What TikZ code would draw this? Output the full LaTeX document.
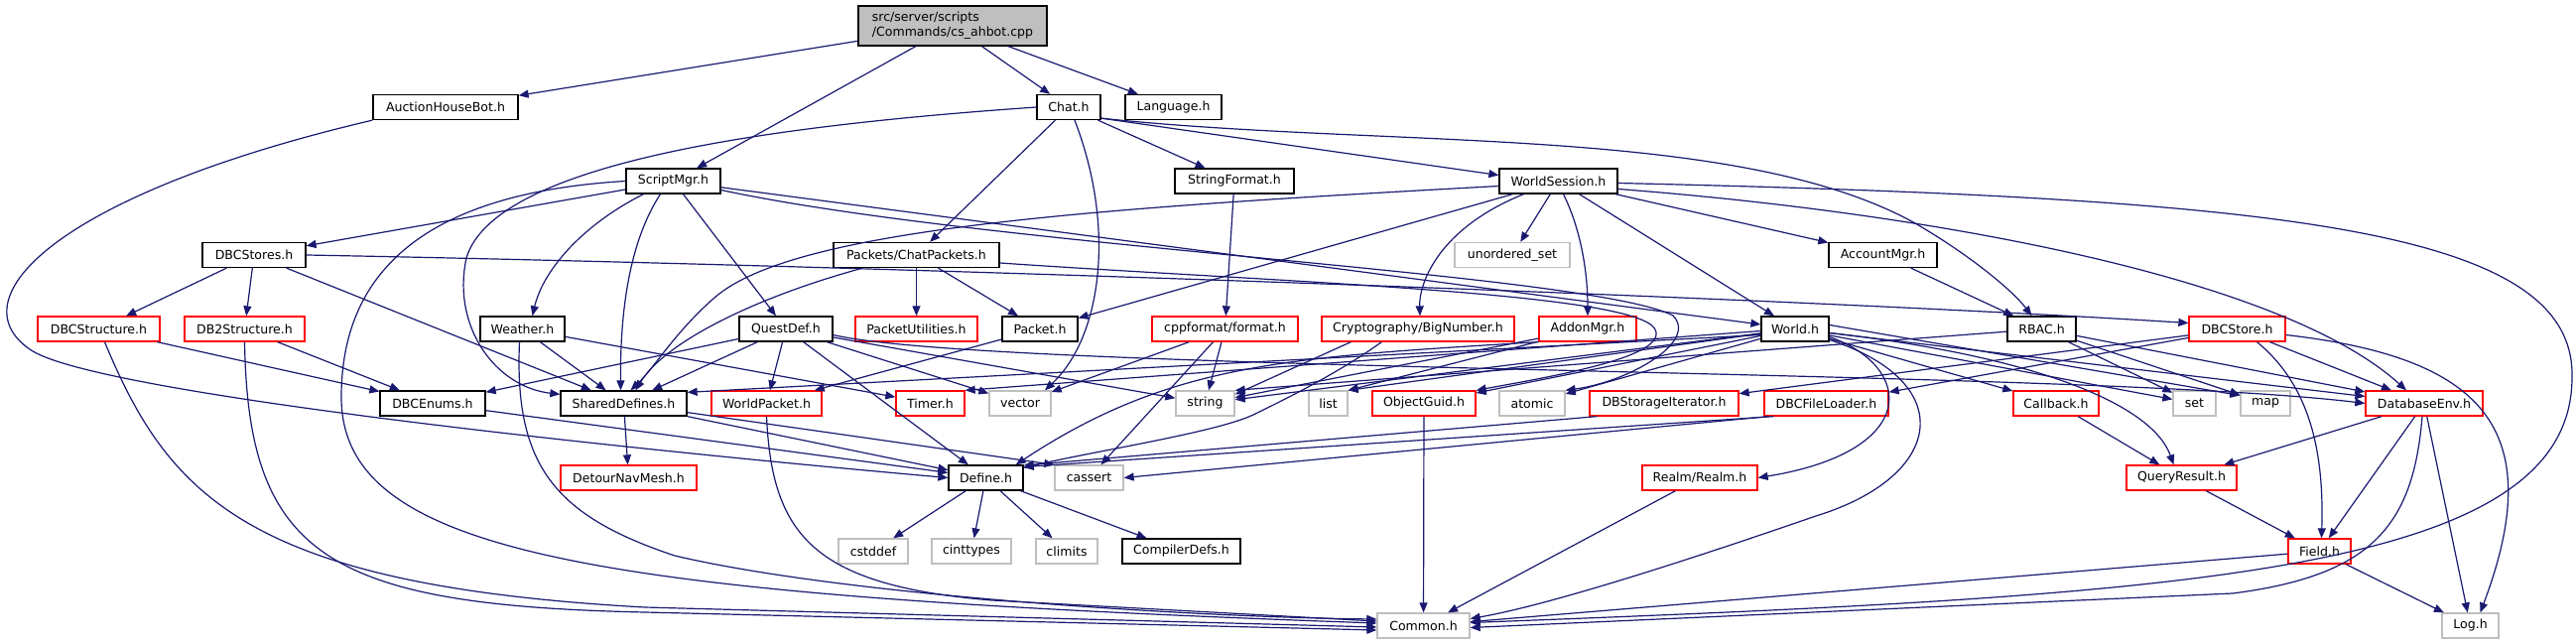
\documentclass[tikz,border=0pt]{standalone}
\usepackage{fontspec}
\setmainfont{DejaVu Sans}
\usetikzlibrary{arrows.meta,calc}
\definecolor{edgec}{HTML}{191970}
\definecolor{grayb}{HTML}{BFBFBF}
\definecolor{redb}{HTML}{FF0000}
\begin{document}
\begin{tikzpicture}[x=1bp,y=-1bp,
  nb/.style={draw=black, fill=white, line width=1.3bp, minimum height=25bp, inner sep=0pt, font=\fontsize{12.6}{15}\selectfont},
  nr/.style={nb, draw=redb},
  ng/.style={nb, draw=grayb},
  dep/.style={draw=edgec, line width=1.2bp, -{Triangle[length=10bp,width=8bp]}}]
\useasboundingbox[fill=white] (0,0) rectangle (2596,649);
% row 0-3
\node[nb,fill=grayb,minimum width=190bp,minimum height=40bp,align=left] (cs) at (960,26) {src/server/scripts\\/Commands/cs\_ahbot.cpp};
\node[nb,minimum width=146bp] (AHB) at (449,108) {AuctionHouseBot.h};
\node[nb,minimum width=64bp] (Chat) at (1077,108) {Chat.h};
\node[nb,minimum width=97bp] (Lang) at (1182.5,108) {Language.h};
\node[nb,minimum width=95bp] (Script) at (678.5,182.5) {ScriptMgr.h};
\node[nb,minimum width=120bp] (StrFmt) at (1244,182.5) {StringFormat.h};
\node[nb,minimum width=119bp] (WS) at (1570.5,182.5) {WorldSession.h};
\node[nb,minimum width=104bp] (DBCStores) at (256,257) {DBCStores.h};
\node[nb,minimum width=167bp] (ChatPk) at (923.5,257) {Packets/ChatPackets.h};
\node[ng,minimum width=116bp] (uset) at (1524,257) {unordered\_set};
\node[nb,minimum width=109bp] (AccMgr) at (1897.5,257) {AccountMgr.h};
% row 4
\node[nr,minimum width=123bp] (DBCStruct) at (99.5,331.5) {DBCStructure.h};
\node[nr,minimum width=121bp] (DB2Struct) at (246.5,331.5) {DB2Structure.h};
\node[nb,minimum width=85bp] (Weather) at (526.5,331.5) {Weather.h};
\node[nb,minimum width=94bp] (Quest) at (792,331.5) {QuestDef.h};
\node[nr,minimum width=123bp] (PktUtil) at (923.5,331.5) {PacketUtilities.h};
\node[nb,minimum width=76bp] (Packet) at (1048,331.5) {Packet.h};
\node[nr,minimum width=147bp] (cppfmt) at (1234.5,331.5) {cppformat/format.h};
\node[nr,minimum width=194bp] (BigNum) at (1429,331.5) {Cryptography/BigNumber.h};
\node[nr,minimum width=98bp] (Addon) at (1600,331.5) {AddonMgr.h};
\node[nb,minimum width=68bp] (World) at (1809,331.5) {World.h};
\node[nb,minimum width=69bp] (RBAC) at (2057.5,331.5) {RBAC.h};
\node[nr,minimum width=97bp] (DBCStore) at (2254.5,331.5) {DBCStore.h};
% row 5
\node[nb,minimum width=106bp] (DBCEnums) at (436,406.5) {DBCEnums.h};
\node[nb,minimum width=127bp] (Shared) at (628.5,406.5) {SharedDefines.h};
\node[nr,minimum width=111bp] (WPkt) at (772.5,406.5) {WorldPacket.h};
\node[nr,minimum width=69bp] (Timer) at (937.5,406.5) {Timer.h};
\node[ng,minimum width=62bp] (vector) at (1028,406.5) {vector};
\node[ng,minimum width=59bp] (string) at (1214.5,406.5) {string};
\node[ng,minimum width=39bp] (list) at (1338.5,406.5) {list};
\node[nr,minimum width=104bp] (OGuid) at (1435,406.5) {ObjectGuid.h};
\node[ng,minimum width=66bp] (atomic) at (1544,406.5) {atomic};
\node[nr,minimum width=150bp] (DBSI) at (1677,406.5) {DBStorageIterator.h};
\node[nr,minimum width=125bp] (DBFL) at (1840.5,406.5) {DBCFileLoader.h};
\node[nr,minimum width=86bp] (Callback) at (2072,406.5) {Callback.h};
\node[ng,minimum width=43bp] (set) at (2211.5,406.5) {set};
\node[ng,minimum width=50bp] (map) at (2283,406.5) {map};
\node[nr,minimum width=118bp] (DBEnv) at (2443,406.5) {DatabaseEnv.h};
% row 6
\node[nr,minimum width=137bp] (Detour) at (633.5,481.5) {DetourNavMesh.h};
\node[nb,minimum width=75bp] (Define) at (993.5,481.5) {Define.h};
\node[ng,minimum width=69bp] (cassert) at (1097.5,481.5) {cassert};
\node[nr,minimum width=116bp] (Realm) at (1713,481.5) {Realm/Realm.h};
\node[nr,minimum width=111bp] (QR) at (2198.5,481.5) {QueryResult.h};
% row 7
\node[ng,minimum width=70bp] (cstddef) at (880,555.5) {cstddef};
\node[ng,minimum width=80bp] (cinttypes) at (979,555.5) {cinttypes};
\node[ng,minimum width=62bp] (climits) at (1075,555.5) {climits};
\node[nb,minimum width=119bp] (CompDefs) at (1190.5,555.5) {CompilerDefs.h};
\node[nr,minimum width=63bp] (Field) at (2337.5,555.5) {Field.h};
% row 8
\node[ng,minimum width=93bp] (Common) at (1434.5,630.5) {Common.h};
\node[ng,minimum width=57bp] (Log) at (2489.5,630.5) {Log.h};

% ---- edges ----
\draw[dep] (cs) -- (AHB);
\draw[dep] (cs) -- (Script);
\draw[dep] (cs) -- (Chat);
\draw[dep] (cs) -- (Lang);
\draw[dep] (AHB.south west) .. controls (60,195) and (-45,300) .. (30,352) .. controls (90,395) and (600,450) .. (Define.west);
% Chat
\draw[dep] (Chat.west) .. controls (800,125) and (500,160) .. (470,260) .. controls (455,330) and (500,390) .. ($(Shared.north west)+(0,4)$);
\draw[dep] (Chat) -- (ChatPk);
\draw[dep] ($(Chat.south)+(6,0)$) .. controls (1125,230) and (1110,340) .. ($(vector.north)+(25,0)$);
\draw[dep] (Chat) -- (StrFmt);
\draw[dep] ($(Chat.south east)+(0,-2)$) -- ($(WS.west)+(0,-6)$);
\draw[dep] ($(Chat.south east)+(0,-2)$) .. controls (1400,150) and (1750,125) .. (1930,225) .. controls (1990,260) and (2030,295) .. ($(RBAC.north)+(-10,0)$);
% ScriptMgr
\draw[dep] (Script.west) .. controls (420,195) and (344,280) .. (344,400) .. controls (344,560) and (600,600) .. ($(Common.west)+(0,-2.5)$);
\draw[dep] (Script) -- (DBCStores);
\draw[dep] ($(Script.south)+(-30,0)$) .. controls (590,225) and (548,270) .. ($(Weather.north)+(10,0)$);
\draw[dep] ($(Script.south)+(-13,0)$) .. controls (630,250) and (625,330) .. ($(Shared.north)+(-3,0)$);
\draw[dep] (Script) -- (Quest);
\draw[dep] (Script) -- (World);
\draw[dep] ($(Script.east)+(0,9)$) .. controls (1000,250) and (1600,275) .. (1686,318) .. controls (1712,345) and (1640,385) .. (atomic.north east);
% StringFormat
\draw[dep] (StrFmt) -- (cppfmt);
% WorldSession
\draw[dep] ($(WS.west)+(0,5)$) .. controls (1100,210) and (800,230) .. (720,300) .. controls (680,335) and (660,370) .. ($(Shared.north)+(7,0)$);
\draw[dep] (WS) -- (Packet);
\draw[dep] ($(WS.south)+(-35,0)$) .. controls (1450,230) and (1430,285) .. ($(BigNum.north)+(2,0)$);
\draw[dep] (WS) -- (uset);
\draw[dep] ($(WS.south)+(5,0)$) .. controls (1595,235) and (1600,280) .. (Addon.north);
\draw[dep] (WS) -- (World);
\draw[dep] (WS) -- (AccMgr);
\draw[dep] ($(WS.east)+(0,2)$) .. controls (2300,200) and (2595,230) .. (2592,380) .. controls (2592,580) and (2200,600) .. ($(Common.east)+(0,-3)$);
\draw[dep] ($(WS.east)+(0,8)$) .. controls (1950,215) and (2300,280) .. ($(DBEnv.north)+(-18,0)$);
% DBCStores
\draw[dep] (DBCStores) -- (DBCStruct);
\draw[dep] (DBCStores) -- (DB2Struct);
\draw[dep] (DBCStores) -- (Shared);
\draw[dep] (DBCStores.east) .. controls (900,268) and (1800,300) .. ($(DBCStore.west)+(0,-6)$);
% ChatPackets
\draw[dep] ($(ChatPk.south west)+(30,0)$) .. controls (760,300) and (670,345) .. ($(Shared.north)+(12,0)$);
\draw[dep] (ChatPk) -- (PktUtil);
\draw[dep] (ChatPk) -- (Packet);
\draw[dep] ($(ChatPk.east)+(0,8)$) .. controls (1300,285) and (1650,295) .. (1668,332) .. controls (1682,360) and (1560,380) .. (OGuid.north east);
% AccountMgr
\draw[dep] (AccMgr) -- (RBAC);
% DBC/DB2 structure
\draw[dep] (DBCStruct) -- (DBCEnums);
\draw[dep] ($(DBCStruct.south)+(6,0)$) .. controls (170,500) and (250,590) .. (650,612) -- ($(Common.west)+(0,1.5)$);
\draw[dep] (DB2Struct) -- (DBCEnums);
\draw[dep] (DB2Struct.south) .. controls (250,560) and (330,610) .. (650,617) -- ($(Common.west)+(0,4.5)$);
% Weather
\draw[dep] (Weather) -- (Shared);
\draw[dep] (Weather) -- (Timer);
\draw[dep] ($(Weather.south)+(-3,0)$) .. controls (518,470) and (560,520) .. (680,560) .. controls (850,600) and (1200,622) .. ($(Common.west)+(0,-6.5)$);
% QuestDef
\draw[dep] (Quest) -- (DBCEnums);
\draw[dep] (Quest) -- (Shared);
\draw[dep] (Quest) -- (WPkt);
\draw[dep] (Quest) -- (Define);
\draw[dep] (Quest) -- (vector);
\draw[dep] (Quest) -- (string);
\draw[dep] ($(Quest.east)+(0,6)$) .. controls (1000,375) and (2100,372) .. (DBEnv.west);
% Packet
\draw[dep] (Packet) -- (WPkt);
% cppformat
\draw[dep] (cppfmt) -- (vector);
\draw[dep] (cppfmt) -- (string);
\draw[dep] (cppfmt) -- (cassert);
% BigNumber
\draw[dep] ($(BigNum.south west)+(30,0)$) -- ($(string.east)+(0,-9)$);
\draw[dep] ($(BigNum.south west)+(61,0)$) .. controls (1350,375) and (1300,400) .. (1263,418) .. controls (1225,436) and (1100,455) .. ($(Define.east)+(0,-10)$);
% AddonMgr
\draw[dep] (Addon) -- (string);
\draw[dep] (Addon) -- (list.north east);
\draw[dep] (Addon.south west) .. controls (1300,360) and (1180,365) .. ($(Define.north east)+(-8,0)$);
% World
\draw[dep] ($(World.west)+(0,6)$) -- ($(Shared.north east)+(0,2)$);
\draw[dep] ($(World.west)+(0,2)$) -- (Timer.north east);
\draw[dep] (World) -- (string);
\draw[dep] (World) -- (list.north east);
\draw[dep] (World) -- (OGuid);
\draw[dep] (World) -- (atomic);
\draw[dep] (World) -- (Callback);
\draw[dep] (World) -- (set);
\draw[dep] ($(World.east)+(0,-4)$) -- ($(map.west)+(0,-8)$);
\draw[dep] (World) -- (DBEnv);
\draw[dep] ($(World.east)+(0,4)$) .. controls (2060,360) and (2170,410) .. ($(QR.north)+(-8,0)$);
\draw[dep] ($(World.east)+(0,8)$) .. controls (1930,370) and (1935,455) .. (Realm.east);
\draw[dep] ($(World.east)+(0,11)$) .. controls (1975,385) and (1960,480) .. (1830,520) .. controls (1700,565) and (1560,610) .. ($(Common.east)+(0,-7)$);
% RBAC
\draw[dep] (RBAC) -- (string.north east);
\draw[dep] (RBAC) -- (set);
\draw[dep] (RBAC) -- (map);
\draw[dep] (RBAC) -- (DBEnv);
% DBCStore
\draw[dep] (DBCStore) -- (DBSI);
\draw[dep] (DBCStore) -- (DBFL);
\draw[dep] (DBCStore) -- (DBEnv);
\draw[dep] ($(DBCStore.south)+(20,0)$) .. controls (2330,390) and (2342,460) .. ($(Field.north)+(2,0)$);
\draw[dep] ($(DBCStore.east)+(0,6)$) .. controls (2500,360) and (2570,430) .. ($(Log.north)+(10,0)$);
% row 5 sources
\draw[dep] (DBCEnums) -- (Define);
\draw[dep] (Shared) -- (Detour);
\draw[dep] (Shared) -- (Define);
\draw[dep] (Shared) -- (cassert.north west);
\draw[dep] (WPkt.south) .. controls (778,540) and (820,590) .. (1000,605) -- ($(Common.west)+(0,-4.5)$);
\draw[dep] (OGuid) -- (Common);
\draw[dep] ($(DBSI.south west)+(8,0)$) -- ($(Define.east)+(0,-12.5)$);
\draw[dep] ($(DBFL.south west)+(10,0)$) -- ($(Define.east)+(0,-11)$);
\draw[dep] ($(DBFL.south west)+(5,0)$) -- (cassert.east);
\draw[dep] (Callback) -- (QR);
\draw[dep] (DBEnv) -- (QR);
\draw[dep] (DBEnv) -- (Field);
\draw[dep] (DBEnv) -- (Log);
\draw[dep] ($(DBEnv.south)+(-2,0)$) .. controls (2432,530) and (2390,580) .. (2250,598) -- ($(Common.east)+(0,2)$);
% row 6 sources
\draw[dep] (Define) -- (cstddef);
\draw[dep] (Define) -- (cinttypes);
\draw[dep] (Define) -- (climits);
\draw[dep] (Define) -- (CompDefs);
\draw[dep] (Realm) -- (Common);
\draw[dep] (QR) -- (Field);
% row 7 sources
\draw[dep] (Field) -- (Common);
\draw[dep] (Field) -- (Log);
\end{tikzpicture}
\end{document}
